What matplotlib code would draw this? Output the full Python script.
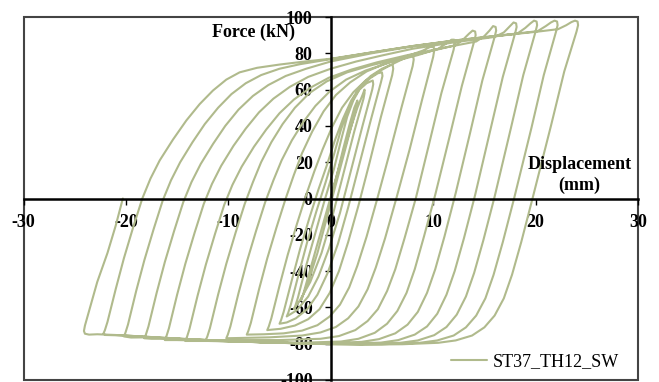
import numpy as np
import matplotlib.pyplot as plt
from matplotlib.patches import Rectangle

plt.rcParams["axes.unicode_minus"] = False

# Петли гистерезиса: перемещение (мм) и сила (кН)
c01_d = [0, 0.6, 1.2, 1.8, 2.3, 2.6, 2.6, 2.4, 1.6, 0.7, -0.3, -1.3, -2.2, -2.9]
c01_f = [0, 13, 27, 40, 50, 54, 52, 48, 31, 12, -9, -30, -46, -56]

c02_d = [-2.9, -2.75, -2.4, -1.6, -0.7, 0.2, 1.1, 1.9, 2.6, 3.1, 3.3, 3.3,
         3.2, 2.3, 1.3, 0.2, -0.9, -2.0, -3.0, -3.6]
c02_f = [-56, -54, -47, -31, -13, 5, 23, 38, 50, 57, 60, 58,
         55, 37, 15, -9, -30, -46, -56, -61]

c03_d = [-3.6, -3.45, -3.2, -2.4, -1.5, -0.6, 0.3, 1.0, 1.6, 2.2, 2.8, 3.5, 4.1, 4.15,
         4.05, 3.1, 2.0, 0.9, -0.2, -1.2, -2.2, -3.3, -4.3]
c03_f = [-61, -59, -54.5, -37, -19, -1, 16, 32, 45, 54, 60, 63.5, 65, 63,
         60, 40, 16, -8, -28, -43, -54, -61.5, -65]

c04_d = [-4.3, -4.15, -3.9, -3.1, -2.3, -1.4, -0.5, 0.3, 1.0, 1.7, 2.4, 3.1, 3.9, 4.6, 5.0, 5.05,
         4.9, 3.9, 2.8, 1.7, 0.7, -0.3, -1.3, -2.3, -3.4, -4.3, -5.0]
c04_f = [-65, -63, -58.5, -41, -24, -7, 9, 24, 38, 49, 57, 62.5, 66.5, 69, 69.5, 67.5,
         64, 43, 19, -5, -25, -41, -53, -61, -66, -68.3, -69]

c05_d = [-5.0, -4.85, -4.6, -3.8, -3.0, -2.1, -1.2, -0.4, 0.4, 1.2, 2.0, 2.9, 3.9, 5.0, 5.8, 6.05, 6.1,
         6.0, 4.9, 3.8, 2.7, 1.7, 0.8, -0.1, -1.1, -2.2, -3.5, -4.9, -6.2]
c05_f = [-69, -67, -62.5, -45, -28, -11, 5, 18, 32, 44, 54, 62, 67.5, 71.5, 73.5, 73.5, 71.5,
         68, 45, 20, -4, -24, -40, -52, -61, -66.5, -70, -71.8, -72.5]

c06_d = [-6.2, -6.05, -5.8, -5.0, -4.2, -3.3, -2.4, -1.6, -0.8, 0.1, 1.1, 2.2, 3.4, 4.7, 6.0, 7.1, 7.8, 8.05, 8.1,
         8.0, 6.9, 5.7, 4.5, 3.5, 2.6, 1.8, 0.9, -0.1, -1.3, -2.8, -4.6, -6.5, -8.2]
c06_f = [-72.5, -70.5, -66, -48, -31, -14, 2, 15, 27, 39, 50, 58.5, 65, 70, 74, 77, 78.5, 78.5, 76.5,
         73, 50, 24, -1, -21, -37, -49, -58.5, -65, -69.8, -72.8, -74.3, -74.8, -75]

c07_d = [-8.2, -8.05, -7.8, -7.0, -6.2, -5.3, -4.4, -3.6, -2.8, -1.8, -0.7, 0.5, 1.9, 3.5, 5.4, 7.5, 9.0, 9.7, 10.05, 10.1,
         10.0, 8.9, 7.7, 6.4, 5.3, 4.4, 3.6, 2.7, 1.7, 0.5, -1.0, -2.8, -6.0, -10.2]
c07_f = [-75, -73, -68.5, -50, -33, -16, 0, 13, 25, 37, 48, 57, 64, 70, 74.5, 78.5, 81.5, 83.5, 83.5, 81.5,
         78, 54, 27, 0, -22, -38, -50, -59.5, -66, -70.8, -73.8, -75.5, -76.5, -77]

c08_d = [-10.2, -10.05, -9.8, -9.0, -8.2, -7.3, -6.4, -5.6, -4.8, -3.8, -2.7, -1.5, -0.1, 1.5, 3.4, 5.8, 8.5, 10.5, 11.3, 11.8, 12.05, 12.1,
         12.0, 10.8, 9.6, 8.3, 7.2, 6.3, 5.5, 4.6, 3.6, 2.4, 0.8, -1.0, -5.0, -9.0, -12.2]
c08_f = [-77, -75, -70.5, -52, -35, -18, -2, 10, 21, 32, 42, 51, 59, 65.5, 70.5, 75, 79, 82.5, 85.5, 87.5, 87.5, 85.5,
         82, 58, 30, 0, -22, -39, -51, -61, -67.5, -72.5, -75.8, -77.3, -78, -78, -78]

c09_d = [-12.2, -12.05, -11.8, -11.0, -10.2, -9.3, -8.4, -7.6, -6.8, -5.8, -4.7, -3.5, -2.1, -0.4, 1.6, 4.0, 7.0, 10.0, 12.2, 13.0, 13.5, 13.85, 14.1, 14.15,
         14.0, 12.8, 11.6, 10.2, 9.1, 8.2, 7.4, 6.5, 5.5, 4.3, 2.7, 1.0, -3.0, -8.0, -12.0, -14.2]
c09_f = [-78, -76, -71.5, -53, -36, -19, -3, 9, 20, 31, 41, 50, 58, 64.5, 69.5, 73.5, 77.5, 81.5, 84.5, 88, 90.8, 92.5, 92, 90,
         86.5, 62, 34, 2, -21, -39, -52, -62, -69, -74, -77.3, -78.8, -79.5, -79, -78.5, -78.5]

c10_d = [-14.2, -14.05, -13.8, -13.0, -12.2, -11.3, -10.4, -9.6, -8.7, -7.5, -6.3, -5.0, -3.6, -2.0, -0.2, 2.0, 4.5, 7.5, 11.0, 14.2, 15.0, 15.5, 15.85, 16.1, 16.15,
         16.0, 14.8, 13.6, 12.2, 11.1, 10.2, 9.4, 8.5, 7.5, 6.3, 4.7, 3.0, -1.0, -6.0, -11.0, -15.0, -16.2]
c10_f = [-78.5, -76.5, -72, -53.5, -36.5, -19.5, -3.5, 7.5, 17.5, 28.5, 38, 47, 54.5, 61, 66.5, 71, 75, 79, 83, 86.5, 89.5, 92.5, 95, 94.5, 92.5,
         89, 65, 36, 3, -21, -39, -52, -62.5, -69.5, -74.3, -77.5, -79, -79.8, -79.3, -78.5, -78, -78]

c11_d = [-16.2, -16.05, -15.8, -15.0, -14.2, -13.3, -12.4, -11.6, -10.7, -9.5, -8.3, -7.0, -5.6, -4.0, -2.2, 0.0, 2.5, 5.0, 8.0, 12.0, 16.0, 16.9, 17.5, 17.85, 18.1, 18.15,
         18.0, 16.8, 15.6, 14.1, 13.0, 12.1, 11.3, 10.4, 9.4, 8.2, 6.6, 4.9, 1.0, -4.0, -10.0, -15.0, -17.5, -18.2]
c11_f = [-78, -76, -71.5, -53, -36, -19, -3, 8, 18, 29, 38.5, 47.5, 55, 61.5, 67, 71.5, 75.5, 78.8, 82.5, 86, 89, 91.5, 95, 97, 96.5, 94.5,
         91, 67, 38, 2, -22, -40, -53, -63.5, -70.5, -75, -78, -79.4, -80, -79.6, -78.5, -77.3, -77.3, -77]

c12_d = [-18.2, -18.05, -17.8, -17.0, -16.2, -15.3, -14.4, -13.6, -12.7, -11.5, -10.3, -9.0, -7.6, -6.1, -4.4, -2.4, 0.0, 4.0, 8.0, 12.0, 16.0, 18.2, 19.0, 19.5, 19.85, 20.1, 20.15,
         20.0, 18.8, 17.6, 16.0, 14.9, 14.0, 13.2, 12.3, 11.3, 10.1, 8.5, 6.8, 3.0, -2.0, -8.0, -14.0, -18.0, -19.5, -20.2]
c12_f = [-77, -75, -70.5, -52, -35, -18, -2, 9, 19, 30, 40, 49, 56.5, 62.5, 67.5, 71.5, 75.5, 80, 83.8, 86.8, 89.3, 90.8, 94, 96.5, 98, 97.5, 95.5,
         92, 68, 39, 1, -23, -41, -54, -64, -70.8, -75.3, -78.2, -79.5, -80.2, -80, -79, -77.5, -76.5, -76.6, -76]

c13_d = [-20.2, -20.05, -19.8, -19.0, -18.2, -17.3, -16.4, -15.6, -14.7, -13.5, -12.3, -11.0, -9.7, -8.3, -6.8, -5.0, -3.0, 0.0, 4.0, 8.0, 12.0, 16.0, 20.2, 21.0, 21.5, 21.85, 22.1, 22.15,
         22.0, 20.8, 19.6, 17.9, 16.8, 15.9, 15.1, 14.2, 13.2, 12.0, 10.4, 8.7, 5.0, 0.0, -6.0, -12.0, -17.0, -20.0, -21.3, -22.0, -22.2]
c13_f = [-76, -74, -69.5, -51, -34, -17, -1, 10, 20, 31, 41, 50, 57.5, 63.5, 68, 71.5, 74, 76.8, 80.5, 84, 87, 89.5, 92.2, 95, 97, 98, 97.5, 95.5,
         92, 68, 39, 0, -24, -42, -55, -64.5, -71, -75.5, -78.2, -79.5, -80.3, -80.3, -79.3, -78, -76.5, -75.5, -75.3, -75.2, -74.5]

c14_d = [-22.2, -22.05, -21.8, -21.0, -20.2, -19.3, -18.4, -17.6, -16.7, -15.4, -14.1, -12.8, -11.5, -10.2, -8.9, -7.2, -5.0, -2.5, 0.0, 4.0, 8.0, 12.0, 16.0, 20.0, 22.2, 23.0, 23.5, 23.85, 24.1, 24.15,
         24.0, 22.8, 21.5, 19.7, 18.6, 17.7, 16.9, 16.0, 15.0, 13.8, 12.2, 10.5, 7.0, 3.0, -2.0, -8.0, -13.0, -18.0, -21.0, -22.8, -23.6, -24.0, -24.1,
         -24.0, -23.6, -22.8, -21.8, -21.0, -20.3]
c14_f = [-74.5, -72.5, -68, -50, -33, -16, 0, 11, 21, 32.5, 43, 52, 59.5, 65.5, 69.5, 72, 73.8, 75.5, 77, 80.5, 84, 87, 89.5, 91.8, 93.3, 95.5, 97.2, 98, 97.5, 95.5,
         92, 70, 40, 0, -24, -42, -55, -64.5, -71, -75.5, -78.2, -79.5, -80.3, -80.5, -80, -79, -78, -76.2, -75.2, -74.8, -75, -74.5, -73,
         -70, -62, -46, -30, -15, 0]

cycles_d = [c01_d, c02_d, c03_d, c04_d, c05_d, c06_d, c07_d,
            c08_d, c09_d, c10_d, c11_d, c12_d, c13_d, c14_d]
cycles_f = [c01_f, c02_f, c03_f, c04_f, c05_f, c06_f, c07_f,
            c08_f, c09_f, c10_f, c11_f, c12_f, c13_f, c14_f]

x_ticks = [-30, -20, -10, 0, 10, 20, 30]
y_ticks = [-100, -80, -60, -40, -20, 0, 20, 40, 60, 80, 100]
series_name = "ST37_TH12_SW"

line_color = "#b0ba8c"
serif = "Liberation Serif"

disp = np.concatenate(cycles_d)
force = np.concatenate(cycles_f)

fig = plt.figure(figsize=(6.59, 3.82), dpi=100)
ax = fig.add_axes([23.5 / 659, 2 / 382, 614.5 / 659, 363 / 382])

line, = ax.plot(disp, force, color=line_color, lw=1.5,
                solid_joinstyle="round", solid_capstyle="round")

ax.set_xlim(-30, 30)
ax.set_ylim(-100, 100)
ax.set_xticks(x_ticks)
ax.set_yticks(y_ticks)

# оси проходят через ноль
ax.spines["left"].set_position("zero")
ax.spines["bottom"].set_position("zero")
ax.spines["top"].set_visible(False)
ax.spines["right"].set_visible(False)
for s in ("left", "bottom"):
    ax.spines[s].set_linewidth(1.8)
    ax.spines[s].set_color("black")

# рамка вокруг области графика
ax.add_patch(Rectangle((0, 0), 1, 1, transform=ax.transAxes, fill=False,
                       edgecolor="#444444", lw=1.5, clip_on=False, zorder=0))

ax.tick_params(axis="both", direction="out", length=4, width=1)
ax.tick_params(axis="x", pad=7)
ax.tick_params(axis="y", pad=9)
for lab in ax.get_xticklabels() + ax.get_yticklabels():
    lab.set_fontfamily(serif)
    lab.set_fontweight("bold")
    lab.set_fontsize(13)

ax.text(-7.5, 91.5, "Force (kN)", fontfamily=serif, fontweight="bold",
        fontsize=13, ha="center", va="center")
ax.text(24.3, 18.5, "Displacement", fontfamily=serif, fontweight="bold",
        fontsize=13, ha="center", va="center")
ax.text(24.3, 7.5, "(mm)", fontfamily=serif, fontweight="bold",
        fontsize=13, ha="center", va="center")

fig.legend([line], [series_name], loc="center left",
           bbox_to_anchor=(451 / 659, 1 - 362 / 382), bbox_transform=fig.transFigure,
           frameon=False, borderpad=0, borderaxespad=0, handlelength=2.0,
           handletextpad=0.3, prop={"family": serif, "size": 13})

fig.savefig("out.png", dpi=100)
